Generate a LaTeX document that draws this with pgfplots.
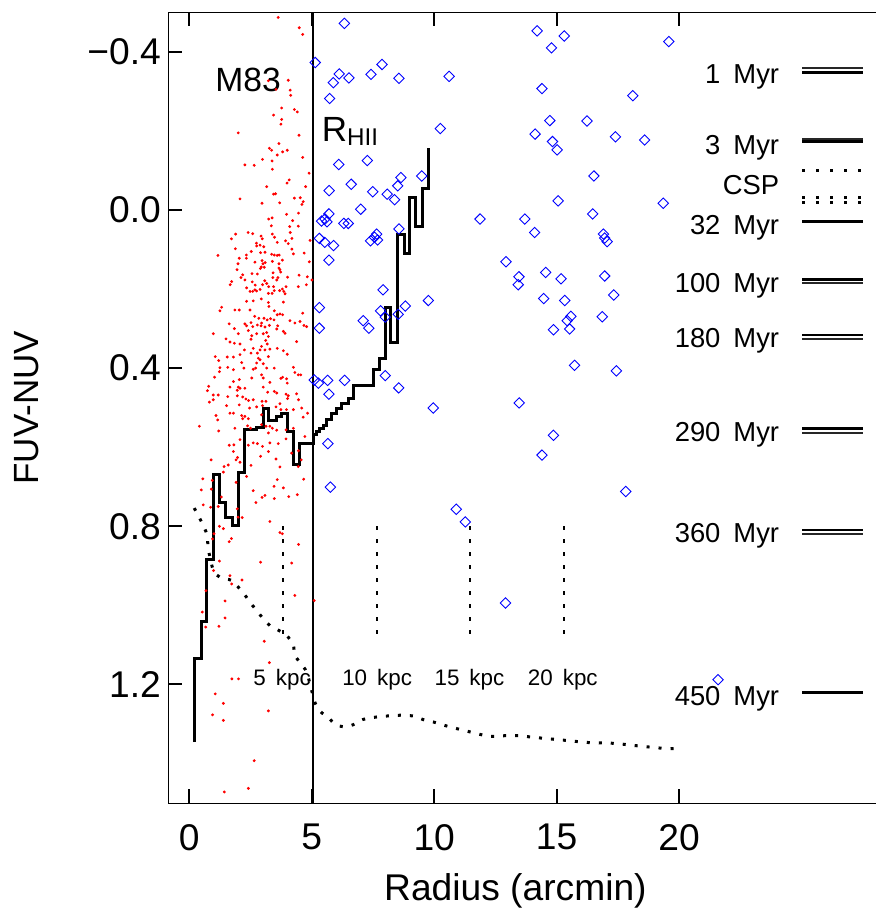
\documentclass[border=0pt]{standalone}
\usepackage{fontspec}
\setmainfont{Liberation Sans}
\usepackage{pgfplots}
\pgfplotsset{compat=1.18}

\pgfplotstableread{
x y
3.63 -0.487
4.49 -0.461
4.63 -0.444
3.23 -0.327
4.04 -0.328
3.54 -0.305
4.12 -0.303
4.14 -0.290
3.77 -0.258
4.29 -0.254
4.41 -0.248
3.44 -0.240
3.77 -0.229
3.74 -0.217
2.00 -0.195
4.48 -0.189
3.66 -0.168
3.27 -0.156
3.36 -0.151
3.81 -0.147
4.00 -0.151
3.59 -0.139
4.63 -0.133
2.99 -0.128
3.38 -0.124
2.27 -0.114
2.65 -0.113
3.39 -0.103
4.89 -0.093
4.08 -0.076
3.99 -0.068
3.16 -0.059
4.75 -0.059
3.52 -0.041
3.44 -0.040
4.53 -0.031
4.29 -0.030
4.65 -0.021
4.60 -0.014
2.07 -0.028
2.97 -0.017
3.69 -0.018
3.97 0.011
4.46 0.008
3.24 0.023
3.38 0.020
4.22 0.027
3.35 0.040
4.10 0.042
4.45 0.041
4.12 0.057
3.39 0.061
2.40 0.057
2.59 0.060
1.89 0.061
2.93 0.066
2.98 0.073
3.48 0.069
1.72 0.073
3.59 0.082
3.93 0.078
4.04 0.085
4.93 0.077
4.19 0.072
2.74 0.084
2.89 0.089
2.75 0.091
3.04 0.093
1.88 0.098
4.19 0.099
2.53 0.105
2.91 0.108
3.09 0.107
3.36 0.112
3.47 0.114
3.59 0.115
3.67 0.114
3.39 0.130
3.80 0.127
4.69 0.109
4.25 0.111
1.17 0.115
2.33 0.114
2.04 0.122
2.33 0.122
2.68 0.132
2.97 0.128
3.10 0.133
3.01 0.136
3.66 0.136
3.06 0.145
2.94 0.144
2.90 0.148
3.66 0.147
1.99 0.136
4.90 0.131
1.95 0.151
3.70 0.151
2.18 0.164
2.56 0.161
2.78 0.162
3.73 0.157
3.42 0.159
3.41 0.171
3.62 0.171
3.57 0.177
2.11 0.171
4.01 0.170
4.48 0.165
4.82 0.169
5.01 0.177
3.08 0.179
3.16 0.186
1.73 0.181
2.27 0.177
2.57 0.182
2.99 0.189
2.69 0.190
2.89 0.201
3.24 0.194
3.44 0.194
3.95 0.194
3.80 0.200
3.86 0.206
3.91 0.212
3.69 0.204
4.45 0.194
4.78 0.189
1.67 0.189
2.34 0.197
2.48 0.206
2.59 0.206
2.75 0.205
2.68 0.202
3.23 0.211
3.38 0.211
3.47 0.204
2.34 0.231
2.61 0.230
2.94 0.225
3.23 0.234
3.84 0.233
1.32 0.246
1.25 0.255
3.25 0.244
1.86 0.253
2.04 0.253
2.48 0.253
3.47 0.255
3.70 0.263
3.59 0.265
3.81 0.265
4.63 0.261
2.67 0.269
2.84 0.274
3.05 0.274
3.18 0.278
3.32 0.275
3.46 0.278
1.63 0.288
2.27 0.288
2.34 0.293
2.52 0.285
2.59 0.295
2.78 0.291
2.95 0.286
2.93 0.293
3.09 0.296
3.27 0.292
3.61 0.293
4.11 0.280
4.31 0.286
4.52 0.282
4.68 0.292
4.79 0.295
0.98 0.313
1.84 0.300
2.00 0.313
2.41 0.305
2.55 0.318
2.75 0.313
3.02 0.313
3.16 0.310
3.23 0.320
3.57 0.301
3.84 0.307
3.91 0.312
2.52 0.327
3.12 0.330
3.18 0.339
2.95 0.345
2.89 0.354
2.61 0.350
1.50 0.326
1.66 0.334
1.84 0.337
2.07 0.339
2.25 0.354
2.52 0.362
2.78 0.362
3.09 0.354
3.29 0.352
3.59 0.350
3.84 0.356
4.00 0.365
4.38 0.333
1.06 0.371
1.20 0.381
1.55 0.372
1.80 0.372
2.07 0.366
2.82 0.375
2.89 0.379
3.23 0.371
3.02 0.389
2.75 0.387
2.14 0.386
1.25 0.399
1.57 0.398
1.80 0.404
2.23 0.400
2.71 0.400
2.61 0.403
3.16 0.400
3.47 0.400
4.25 0.398
1.23 0.409
1.03 0.423
2.04 0.429
1.80 0.434
2.55 0.425
2.95 0.417
3.02 0.425
3.29 0.436
3.74 0.426
3.81 0.423
3.97 0.427
4.31 0.411
4.45 0.417
4.55 0.417
4.00 0.438
1.66 0.448
2.00 0.448
1.96 0.456
2.27 0.451
2.07 0.451
3.02 0.448
3.47 0.459
3.57 0.463
3.20 0.461
3.95 0.466
4.38 0.465
0.79 0.446
0.74 0.457
0.98 0.468
1.18 0.468
0.82 0.486
0.98 0.480
1.57 0.472
1.96 0.470
2.18 0.473
2.31 0.478
2.42 0.482
2.61 0.480
2.97 0.484
3.13 0.484
3.70 0.490
4.01 0.477
4.04 0.470
4.46 0.480
1.52 0.495
2.04 0.493
2.46 0.501
2.75 0.498
2.99 0.495
3.54 0.498
3.74 0.505
3.97 0.505
4.25 0.505
4.59 0.501
1.09 0.520
1.16 0.531
1.66 0.514
1.80 0.514
2.14 0.520
2.27 0.522
2.18 0.528
2.41 0.528
2.95 0.518
4.65 0.524
4.83 0.514
0.41 0.547
1.20 0.559
1.86 0.552
2.38 0.546
2.50 0.552
2.95 0.543
3.13 0.547
3.29 0.547
3.39 0.552
3.57 0.557
3.23 0.564
3.95 0.556
4.25 0.552
4.72 0.573
1.63 0.595
1.82 0.594
2.07 0.581
2.41 0.595
2.61 0.589
2.78 0.591
2.99 0.598
3.29 0.589
3.63 0.591
3.95 0.579
1.80 0.611
3.23 0.611
2.91 0.623
3.54 0.630
4.18 0.615
4.46 0.609
4.57 0.632
4.45 0.649
0.89 0.632
1.91 0.632
1.97 0.626
2.07 0.638
1.42 0.649
1.59 0.645
1.39 0.663
2.52 0.646
3.70 0.650
2.34 0.674
0.55 0.680
0.94 0.684
1.91 0.689
3.59 0.682
4.67 0.681
0.49 0.708
0.90 0.706
3.46 0.699
3.84 0.703
2.61 0.710
1.31 0.726
2.97 0.727
3.09 0.722
3.47 0.730
4.06 0.725
4.41 0.720
2.72 0.740
0.57 0.746
0.87 0.752
1.18 0.750
1.96 0.756
1.99 0.777
2.16 0.778
3.29 0.788
1.23 0.800
1.39 0.806
3.70 0.816
3.80 0.819
1.72 0.831
1.63 0.839
1.01 0.819
0.95 0.832
4.46 0.846
1.23 0.888
2.91 0.891
4.18 0.893
0.99 0.912
1.66 0.925
2.15 0.936
1.73 0.946
0.68 0.963
4.31 0.975
5.10 0.988
1.46 0.989
0.53 1.017
1.46 1.032
0.67 1.055
1.21 1.053
3.06 1.091
3.27 1.145
1.74 1.186
2.01 1.186
1.06 1.224
1.39 1.248
0.95 1.277
1.39 1.291
3.23 1.267
2.65 1.393
2.41 1.463
1.43 1.472
}\reddots

\pgfplotstableread{
x y
6.33 -0.472
5.14 -0.373
6.12 -0.344
5.88 -0.322
6.52 -0.334
7.42 -0.343
7.87 -0.368
8.56 -0.333
10.61 -0.338
5.73 -0.282
10.25 -0.206
6.10 -0.115
7.27 -0.125
6.61 -0.065
5.71 -0.049
7.49 -0.046
8.64 -0.082
8.51 -0.061
8.08 -0.040
8.38 -0.026
9.49 -0.086
7.00 -0.002
5.70 0.010
5.54 0.023
5.40 0.028
5.62 0.030
6.31 0.034
6.49 0.034
11.87 0.023
5.31 0.072
5.53 0.082
5.89 0.090
5.70 0.127
7.65 0.061
7.40 0.078
7.69 0.076
7.56 0.069
8.56 0.048
7.91 0.202
5.31 0.247
5.31 0.299
7.10 0.280
7.33 0.299
7.81 0.255
8.00 0.271
8.53 0.264
8.82 0.243
9.76 0.229
5.10 0.430
5.27 0.438
5.65 0.431
6.34 0.431
5.70 0.466
8.00 0.419
8.55 0.450
9.96 0.501
13.47 0.488
5.66 0.591
5.76 0.701
14.87 0.570
14.40 0.620
17.82 0.712
10.90 0.757
11.27 0.789
12.91 0.994
21.59 1.188
14.20 -0.453
15.31 -0.440
14.79 -0.410
19.58 -0.426
14.40 -0.307
18.11 -0.289
14.72 -0.226
16.24 -0.225
14.12 -0.192
14.83 -0.173
15.02 -0.152
17.40 -0.185
18.59 -0.177
16.52 -0.086
15.06 -0.023
19.35 -0.017
13.70 0.023
14.10 0.057
16.47 0.010
16.91 0.061
16.96 0.071
17.06 0.080
12.93 0.131
13.46 0.169
13.43 0.189
14.55 0.158
15.18 0.174
16.96 0.167
17.33 0.215
14.47 0.224
15.33 0.229
15.58 0.269
15.43 0.280
15.53 0.301
14.87 0.303
16.86 0.270
15.73 0.393
17.44 0.407
}\bluediamonds

\pgfplotstableread{
x y
0.20 1.346
0.20 1.135
0.48 1.042
0.71 0.884
0.98 0.670
1.25 0.741
1.48 0.779
1.76 0.798
2.02 0.665
2.26 0.556
2.75 0.549
3.02 0.501
3.22 0.532
3.57 0.522
3.77 0.516
4.00 0.560
4.24 0.644
4.48 0.590
5.06 0.568
5.20 0.560
5.33 0.552
5.47 0.545
5.61 0.530
5.80 0.514
6.00 0.501
6.22 0.490
6.49 0.476
6.69 0.445
7.51 0.403
7.78 0.375
8.03 0.247
8.23 0.334
8.50 0.061
8.78 0.110
9.01 -0.032
9.25 0.042
9.53 -0.055
9.76 -0.158
}\steps

\pgfplotstableread{
x y
0.20 0.754
0.40 0.777
0.60 0.802
0.73 0.824
0.78 0.859
0.98 0.911
1.25 0.929
1.73 0.937
2.00 0.954
2.27 0.974
2.50 0.994
2.75 1.013
3.02 1.034
3.29 1.051
3.67 1.064
3.97 1.076
4.24 1.099
4.31 1.126
4.56 1.148
4.79 1.169
5.02 1.221
5.13 1.246
5.36 1.269
5.67 1.283
5.95 1.301
6.29 1.307
6.69 1.302
7.08 1.289
7.58 1.283
8.06 1.280
8.60 1.278
9.14 1.280
9.55 1.289
9.96 1.295
10.44 1.304
11.32 1.318
12.27 1.331
13.22 1.329
14.24 1.335
15.27 1.341
16.29 1.347
17.31 1.349
18.40 1.356
19.42 1.362
19.96 1.362
}\csp

\pgfplotstableread{
x y
0 1.5
0 1.4646
}\tickA
\pgfplotstableread{
x y
5 1.5
5 1.4646
}\tickB
\pgfplotstableread{
x y
10 1.5
10 1.4646
}\tickC
\pgfplotstableread{
x y
15 1.5
15 1.4646
}\tickD
\pgfplotstableread{
x y
20 1.5
20 1.4646
}\tickE

\newcommand{\tickfont}{\fontsize{18.6}{22}\selectfont}
\newcommand{\legfont}{\fontsize{13.7}{16}\selectfont}
\newcommand{\kpcfont}{\fontsize{11.2}{13}\selectfont}

\begin{document}
\begin{tikzpicture}
\useasboundingbox (0,0) rectangle (437.5pt,454.5pt);
\begin{axis}[
  at={(84pt,53pt)}, anchor=south west,
  scale only axis, width=354.5pt, height=395.35pt,
  xmin=-0.87, xmax=28.08, ymin=-0.5, ymax=1.5, y dir=reverse,
  clip=false,
  tick align=inside,
  major tick length=7pt,
  tick style={black, line width=0.75pt},
  xtick pos=both, ytick pos=left,
  xtick={0,5,10,15,20}, xticklabels={0,5,10,15,20},
  ytick={-0.4,0,0.4,0.8,1.2}, yticklabels={−0.4,0.0,0.4,0.8,1.2},
  minor tick num=0,
  tick label style={font=\tickfont},
  xticklabel style={yshift=-7pt},
  xlabel={Radius (arcmin)},
  xlabel style={at={(axis description cs:0.49,-0.1227)}, anchor=base, font=\tickfont},
  ylabel={FUV-NUV},
  ylabel style={at={(axis description cs:-0.1831,0.5)}, anchor=base, font=\fontsize{17.5}{21}\selectfont},
]
% red points
\addplot[only marks, mark=*, mark size=0.5pt, color=red] table {\reddots};
% blue diamonds
\addplot[only marks, mark=diamond, mark size=2.6pt, color=blue, mark options={xscale=1.3333, line width=0.45pt}] table {\bluediamonds};
% step profile
\addplot[const plot mark left, black, line width=1.5pt] table {\steps};
% dotted model curve
\addplot[black, line width=1.5pt, dash pattern=on 1.5pt off 4.5pt, smooth] table {\csp};
% R_HII line
\addplot[black, line width=1pt] coordinates {(5.06,-0.5) (5.06,1.5)};
% kpc markers
\addplot[black, line width=1.1pt, dash pattern=on 2pt off 4.5pt] coordinates {(3.81,0.80) (3.81,1.08)};
\addplot[black, line width=1.1pt, dash pattern=on 2pt off 4.5pt] coordinates {(7.67,0.80) (7.67,1.08)};
\addplot[black, line width=1.1pt, dash pattern=on 2pt off 4.5pt] coordinates {(11.47,0.80) (11.47,1.08)};
\addplot[black, line width=1.1pt, dash pattern=on 2pt off 4.5pt] coordinates {(15.29,0.80) (15.29,1.08)};
% tick marks drawn as short segments (inward), bottom, top, left
\addplot[black, line width=1pt] table {\tickA};
\addplot[black, line width=1pt] table {\tickB};
\addplot[black, line width=1pt] table {\tickC};
\addplot[black, line width=1pt] table {\tickD};
\addplot[black, line width=1pt] table {\tickE};
\addplot[black, line width=1pt] coordinates {(0,-0.4995) (0,-0.4646)};
\addplot[black, line width=1pt] coordinates {(10,-0.4995) (10,-0.4646)};
\addplot[black, line width=1pt] coordinates {(15,-0.4995) (15,-0.4646)};
\addplot[black, line width=1pt] coordinates {(20,-0.4995) (20,-0.4646)};
\addplot[black, line width=1pt] coordinates {(-0.865,-0.4) (-0.298,-0.4)};
\addplot[black, line width=1pt] coordinates {(-0.865,0) (-0.298,0)};
\addplot[black, line width=1pt] coordinates {(-0.865,0.4) (-0.298,0.4)};
\addplot[black, line width=1pt] coordinates {(-0.865,0.8) (-0.298,0.8)};
\addplot[black, line width=1pt] coordinates {(-0.865,1.2) (-0.298,1.2)};
% age legend lines
\addplot[black!85, line width=1pt] coordinates {(25.02,-0.3595) (27.49,-0.3595)};
\addplot[black, line width=1.5pt] coordinates {(25.02,-0.3487) (27.49,-0.3487)};
\addplot[black!85, line width=1pt] coordinates {(25.02,-0.1806) (27.49,-0.1806)};
\addplot[black, line width=1.5pt] coordinates {(25.02,-0.1723) (27.49,-0.1723)};
\addplot[black, line width=1.5pt, dash pattern=on 1.5pt off 5.5pt] coordinates {(25.02,-0.0993) (27.49,-0.0993)};
\addplot[black, line width=1.5pt, dash pattern=on 1.5pt off 5.5pt] coordinates {(25.02,-0.0316) (27.49,-0.0316)};
\addplot[black, line width=1.5pt, dash pattern=on 1.5pt off 5.5pt] coordinates {(25.02,-0.0195) (27.49,-0.0195)};
\addplot[black, line width=1.5pt] coordinates {(25.02,0.0296) (27.49,0.0296)};
\addplot[black, line width=1.3pt] coordinates {(25.02,0.1756) (27.49,0.1756)};
\addplot[black!85, line width=1pt] coordinates {(25.02,0.1844) (27.49,0.1844)};
\addplot[black, line width=1.3pt] coordinates {(25.02,0.3163) (27.49,0.3163)};
\addplot[black!85, line width=1pt] coordinates {(25.02,0.3259) (27.49,0.3259)};
\addplot[black, line width=1.3pt] coordinates {(25.02,0.5520) (27.49,0.5520)};
\addplot[black!85, line width=1pt] coordinates {(25.02,0.5634) (27.49,0.5634)};
\addplot[black, line width=1.3pt] coordinates {(25.02,0.8098) (27.49,0.8098)};
\addplot[black!85, line width=1pt] coordinates {(25.02,0.8199) (27.49,0.8199)};
\addplot[black, line width=1.5pt] coordinates {(25.02,1.2196) (27.49,1.2196)};
% texts
\node[anchor=base west, font=\fontsize{16.8}{19}\selectfont, inner sep=0pt] at (axis cs:1.05,-0.299) {M83};
\node[anchor=base west, font=\fontsize{17.5}{21}\selectfont, inner sep=0pt] at (axis cs:5.40,-0.173) {R\raisebox{-2pt}{\fontsize{12.1}{14}\selectfont HII}};
\node[anchor=base, font=\kpcfont, inner sep=0pt] at (axis cs:3.79,1.2026) {5\hspace{5pt}kpc};
\node[anchor=base, font=\kpcfont, inner sep=0pt] at (axis cs:7.67,1.2026) {10\hspace{5pt}kpc};
\node[anchor=base, font=\kpcfont, inner sep=0pt] at (axis cs:11.44,1.2026) {15\hspace{5pt}kpc};
\node[anchor=base, font=\kpcfont, inner sep=0pt] at (axis cs:15.25,1.2026) {20\hspace{5pt}kpc};
\node[anchor=base east, font=\legfont, inner sep=0pt] at (axis cs:24.10,-0.320) {1\hspace{6.5pt}Myr};
\node[anchor=base east, font=\legfont, inner sep=0pt] at (axis cs:24.10,-0.1415) {3\hspace{6.5pt}Myr};
\node[anchor=base east, font=\legfont, inner sep=0pt] at (axis cs:24.10,-0.0379) {CSP};
\node[anchor=base east, font=\legfont, inner sep=0pt] at (axis cs:24.10,0.0615) {32\hspace{6.5pt}Myr};
\node[anchor=base east, font=\legfont, inner sep=0pt] at (axis cs:24.10,0.209) {100\hspace{6.5pt}Myr};
\node[anchor=base east, font=\legfont, inner sep=0pt] at (axis cs:24.10,0.347) {180\hspace{6.5pt}Myr};
\node[anchor=base east, font=\legfont, inner sep=0pt] at (axis cs:24.10,0.585) {290\hspace{6.5pt}Myr};
\node[anchor=base east, font=\legfont, inner sep=0pt] at (axis cs:24.10,0.842) {360\hspace{6.5pt}Myr};
\node[anchor=base east, font=\legfont, inner sep=0pt] at (axis cs:24.10,1.253) {450\hspace{6.5pt}Myr};
\end{axis}
\end{tikzpicture}
\end{document}
